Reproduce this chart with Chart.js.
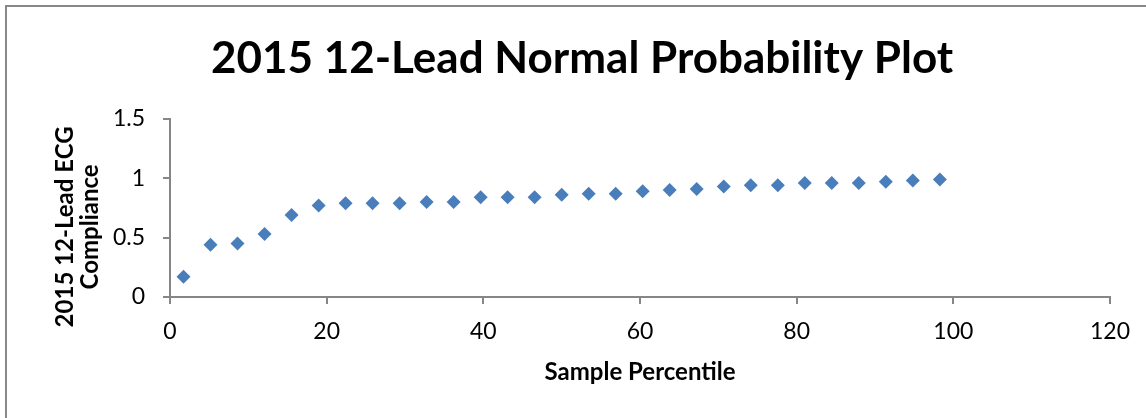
<!DOCTYPE html>
<html lang="en">
<head>
    <meta charset="UTF-8">
    <title>2015 12-Lead Normal Probability Plot</title>
    <style>
        body {
            margin: 0;
            background: #fff;
        }
        #chart-container {
            position: relative;
            width: 1146px;
            height: 418px;
        }
    </style>
</head>
<body>
    <div id="chart-container">
        <canvas id="chart" width="1146" height="418"></canvas>
    </div>
    <script src="https://cdn.jsdelivr.net/npm/chart.js"></script>
    <script>
        // Sample percentiles (x) and 12-lead ECG compliance (y)
        const percentiles = [1.72, 5.17, 8.62, 12.07, 15.52, 18.97, 22.41, 25.86, 29.31, 32.76,
            36.21, 39.66, 43.10, 46.55, 50.00, 53.45, 56.90, 60.34, 63.79, 67.24,
            70.69, 74.14, 77.59, 81.03, 84.48, 87.93, 91.38, 94.83, 98.28];
        const compliance = [0.17, 0.44, 0.45, 0.53, 0.69, 0.77, 0.79, 0.79, 0.79, 0.80,
            0.80, 0.84, 0.84, 0.84, 0.86, 0.87, 0.87, 0.89, 0.90, 0.91,
            0.93, 0.94, 0.94, 0.96, 0.96, 0.96, 0.97, 0.98, 0.99];
        const xTicks = [0, 20, 40, 60, 80, 100, 120];
        const yTicks = [0, 0.5, 1, 1.5];
        const yTitleLines = ['2015 12-Lead ECG', 'Compliance'];

        const axisGray = '#868686';
        const fontFamily = 'Lato, "Open Sans", sans-serif';

        // thin gray frame along the top and left of the chart
        const framePlugin = {
            id: 'frame',
            beforeDraw(chart) {
                const ctx = chart.ctx;
                ctx.save();
                ctx.strokeStyle = '#888888';
                ctx.lineWidth = 2;
                ctx.beginPath();
                ctx.moveTo(6, chart.height);
                ctx.lineTo(6, 6);
                ctx.lineTo(chart.width, 6);
                ctx.stroke();
                ctx.restore();
            }
        };

        // rotated two-line y-axis title, sitting a bit below the plot's middle
        const yTitlePlugin = {
            id: 'yTitle',
            afterDraw(chart) {
                const ctx = chart.ctx;
                const area = chart.chartArea;
                const cy = (area.top + area.bottom) / 2 + 19;
                ctx.save();
                ctx.fillStyle = '#000';
                ctx.font = 'bold 24px ' + fontFamily;
                ctx.textAlign = 'center';
                ctx.textBaseline = 'middle';
                ctx.translate(65, cy);
                ctx.rotate(-Math.PI / 2);
                yTitleLines.forEach((line, i) => {
                    ctx.fillText(line, 0, i * 25);
                });
                ctx.restore();
            }
        };

        const points = percentiles.map((x, i) => ({ x: x, y: compliance[i] }));

        const ctx = document.getElementById('chart').getContext('2d');
        const myChart = new Chart(ctx, {
            type: 'scatter',
            data: {
                datasets: [{
                    data: points,
                    pointStyle: 'rectRot',
                    pointRadius: 7,
                    backgroundColor: '#4a7ebb',
                    borderColor: '#4a7ebb',
                    borderWidth: 0
                }]
            },
            options: {
                responsive: false,
                animation: false,
                layout: {
                    padding: { left: 54, right: 36, top: 0, bottom: 0 }
                },
                plugins: {
                    legend: { display: false },
                    tooltip: { enabled: false },
                    title: {
                        display: true,
                        text: '2015 12-Lead Normal Probability Plot',
                        color: '#000',
                        font: { family: fontFamily, size: 44, weight: 'bold', lineHeight: 1.2 },
                        padding: { top: 32, bottom: 34 }
                    }
                },
                scales: {
                    x: {
                        type: 'linear',
                        min: 0,
                        max: 120,
                        afterBuildTicks: (scale) => {
                            scale.ticks = xTicks.map(v => ({ value: v }));
                        },
                        afterFit: (scale) => {
                            scale.height = 121;
                        },
                        border: { display: true, color: axisGray, width: 2 },
                        grid: {
                            drawOnChartArea: false,
                            drawTicks: true,
                            tickLength: 7,
                            color: axisGray,
                            lineWidth: 2
                        },
                        ticks: {
                            color: '#000',
                            padding: 14,
                            maxRotation: 0,
                            font: { family: fontFamily, size: 23 },
                            callback: (v) => String(v)
                        },
                        title: {
                            display: true,
                            text: 'Sample Percentile',
                            color: '#000',
                            font: { family: fontFamily, size: 24, weight: 'bold', lineHeight: 1.2 },
                            padding: { top: 0, bottom: 31 }
                        }
                    },
                    y: {
                        type: 'linear',
                        min: 0,
                        max: 1.5,
                        afterBuildTicks: (scale) => {
                            scale.ticks = yTicks.map(v => ({ value: v }));
                        },
                        afterFit: (scale) => {
                            scale.width = 116;
                        },
                        border: { display: true, color: axisGray, width: 2 },
                        grid: {
                            drawOnChartArea: false,
                            drawTicks: true,
                            tickLength: 7,
                            color: axisGray,
                            lineWidth: 2
                        },
                        ticks: {
                            color: '#000',
                            padding: 18,
                            font: { family: fontFamily, size: 23 },
                            callback: (v) => String(v)
                        },
                        title: { display: false }
                    }
                }
            },
            plugins: [framePlugin, yTitlePlugin]
        });
    </script>
</body>
</html>
